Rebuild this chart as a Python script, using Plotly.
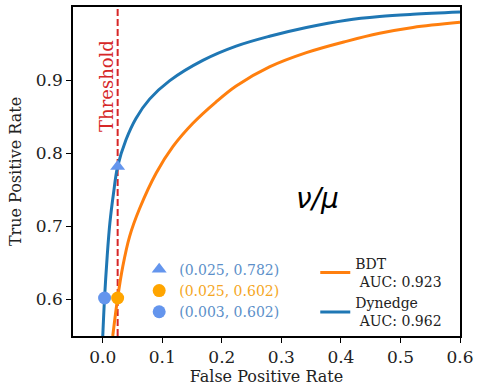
import plotly.graph_objects as go

# ROC curve data
dynedge_fpr = [0.0, 0.003, 0.0075, 0.012, 0.018, 0.025, 0.039, 0.056, 0.0786, 0.112, 0.168, 0.224, 0.280, 0.342, 0.409, 0.465, 0.521, 0.6]
dynedge_tpr = [0.55, 0.602, 0.660, 0.705, 0.745, 0.782, 0.8185, 0.848, 0.874, 0.899, 0.927, 0.9465, 0.960, 0.972, 0.982, 0.987, 0.990, 0.993]
bdt_fpr = [0.0168, 0.025, 0.0336, 0.045, 0.0617, 0.0898, 0.1177, 0.1514, 0.19, 0.224, 0.280, 0.342, 0.409, 0.465, 0.521, 0.6]
bdt_tpr = [0.55, 0.602, 0.645, 0.686, 0.724, 0.773, 0.809, 0.841, 0.870, 0.892, 0.918, 0.9375, 0.953, 0.964, 0.972, 0.979]

model_names = ["BDT", "Dynedge"]
model_auc = [0.923, 0.962]

threshold = 0.025
pt_fpr = [0.025, 0.025, 0.003]
pt_tpr = [0.782, 0.602, 0.602]
pt_symbols = ["triangle-up", "circle", "circle"]
pt_colors = ["#6495ED", "#FFA500", "#6495ED"]
pt_text_colors = ["#5b8fc9", "#f5a623", "#5b8fc9"]

x_ticks = [0.0, 0.1, 0.2, 0.3, 0.4, 0.5, 0.6]
y_ticks = [0.6, 0.7, 0.8, 0.9]

SERIF = "DejaVu Serif"

fig = go.Figure()

# curves (legend2)
fig.add_trace(go.Scatter(x=bdt_fpr, y=bdt_tpr, mode="lines",
                         line=dict(color="#ff7f0e", width=3, shape="spline", smoothing=1.0),
                         name=f"{model_names[0]}<br> AUC: {model_auc[0]}", legend="legend2"))
fig.add_trace(go.Scatter(x=dynedge_fpr, y=dynedge_tpr, mode="lines",
                         line=dict(color="#1f77b4", width=3, shape="spline", smoothing=1.0),
                         name=f"{model_names[1]}<br> AUC: {model_auc[1]}", legend="legend2"))

# threshold line
fig.add_shape(type="line", xref="x", yref="paper", x0=threshold, x1=threshold, y0=0, y1=1,
              line=dict(color="#d62728", width=2, dash="7px,3px"), layer="below")

# working points
for fx, ty, sym, col, tcol in zip(pt_fpr, pt_tpr, pt_symbols, pt_colors, pt_text_colors):
    fig.add_trace(go.Scatter(x=[fx], y=[ty], mode="markers",
                             marker=dict(symbol=sym, color=col, size=13),
                             name=f"<span style='color:{tcol}'>({fx:.3f}, {ty:.3f})</span>",
                             legend="legend"))

fig.add_annotation(text="Threshold", x=threshold, xref="x", y=0.905, yref="paper",
                   textangle=-90, showarrow=False, xshift=-11,
                   font=dict(family=SERIF, size=18, color="#d62728"))
fig.add_annotation(text="<i>ν/μ</i>", x=0.633, y=0.419, xref="paper", yref="paper",
                   showarrow=False, font=dict(family="DejaVu Sans", size=28, color="black"))

axis_common = dict(showline=True, linecolor="black", linewidth=1.5, mirror=True,
                   ticks="outside", ticklen=5, tickwidth=1.2, tickcolor="black",
                   showgrid=False, zeroline=False, automargin=False,
                   tickfont=dict(family=SERIF, size=17, color="#222"),
                   title_font=dict(family=SERIF, size=16, color="#222"))

fig.update_xaxes(range=[-0.05, 0.6], tickvals=x_ticks, tickformat=".1f",
                 title_text="False Positive Rate", title_standoff=2, **axis_common)
fig.update_yaxes(range=[0.55, 1.0], tickvals=y_ticks, tickformat=".1f",
                 title_text="True Positive Rate", title_standoff=10, **axis_common)

fig.update_layout(
    width=477, height=390,
    margin=dict(l=73, r=17, t=7, b=54),
    plot_bgcolor="white", paper_bgcolor="white",
    legend=dict(x=0.171, y=0.25, xanchor="left", yanchor="top",
                bgcolor="rgba(0,0,0,0)", font=dict(family=SERIF, size=14),
                itemwidth=30, tracegroupgap=0),
    legend2=dict(x=0.626, y=0.268, xanchor="left", yanchor="top",
                 bgcolor="rgba(0,0,0,0)", font=dict(family=SERIF, size=14, color="#222"),
                 itemwidth=30),
)

fig.write_html("out.html", config={"displayModeBar": False},
               post_script="document.body.style.margin='0';")
